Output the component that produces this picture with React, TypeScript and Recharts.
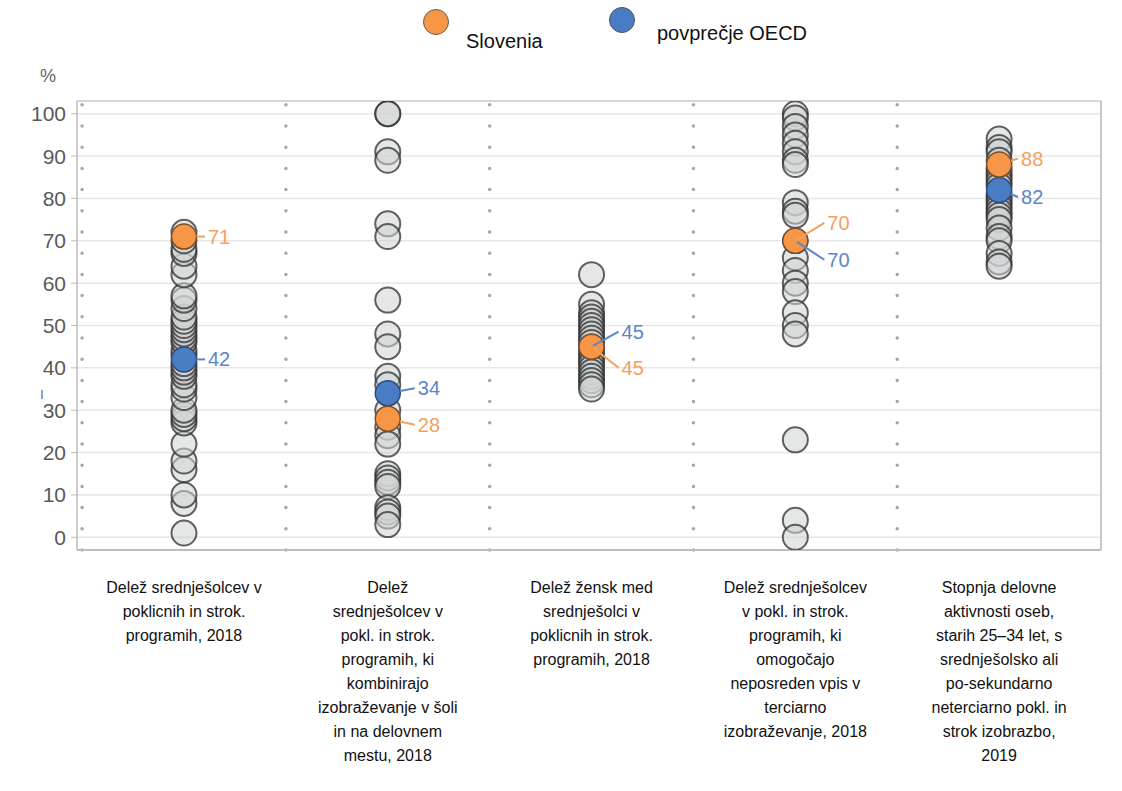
import React from "react"
import { ScatterChart, Scatter, XAxis, YAxis, CartesianGrid, ReferenceLine } from "recharts"

// category labels, one array of lines per column
const categoryLines = [
  ["Delež srednješolcev v", "poklicnih in strok.", "programih, 2018"],
  ["Delež", "srednješolcev v", "pokl. in strok.", "programih, ki", "kombinirajo", "izobraževanje v šoli", "in na delovnem", "mestu, 2018"],
  ["Delež žensk med", "srednješolci v", "poklicnih in strok.", "programih, 2018"],
  ["Delež srednješolcev", "v pokl. in strok.", "programih, ki", "omogočajo", "neposreden vpis v", "terciarno", "izobraževanje, 2018"],
  ["Stopnja delovne", "aktivnosti oseb,", "starih 25–34 let, s", "srednješolsko ali", "po-sekundarno", "neterciarno pokl. in", "strok izobrazbo,", "2019"],
]

// other countries, per indicator
const vocationalShare = [1, 8, 10, 16, 18, 22, 27, 28, 29, 30, 33, 35, 36, 38, 39, 40, 41, 43, 44, 46, 47, 48, 49, 50, 51, 52, 54, 56, 57, 62, 64, 67, 68, 70, 72]
const workBasedShare = [100, 100, 91, 89, 74, 71, 56, 48, 45, 38, 36, 30, 26, 24, 22, 15, 14, 13, 12, 7, 6, 5, 3]
const femaleShare = [62, 55, 53, 52, 51, 50, 49, 48, 47, 46, 44, 43, 42, 41, 40, 39, 38, 37, 36, 35]
const tertiaryAccess = [100, 99, 97, 95, 93, 91, 89, 88, 79, 77, 76, 66, 63, 60, 58, 53, 50, 48, 23, 4, 0]
const employmentRate = [94, 92, 91, 89, 87, 86, 85, 84, 83, 81, 80, 79, 78, 77, 76, 75, 73, 71, 70, 67, 65, 64]

const sloveniaValues = [71, 28, 45, 70, 88]
const oecdValues = [42, 34, 45, 70, 82]

const yTicks = [0, 10, 20, 30, 40, 50, 60, 70, 80, 90, 100]
const separators = [-0.5, 0.5, 1.5, 2.5, 3.5]

const countryData = [vocationalShare, workBasedShare, femaleShare, tertiaryAccess, employmentRate].flatMap((vals, i) =>
  vals.map((v) => ({ x: i, y: v }))
)
const sloveniaData = sloveniaValues.map((v, i) => ({ x: i, y: v }))
const oecdData = oecdValues.map((v, i) => ({ x: i, y: v }))

const FONT = "'Liberation Sans', Arial, sans-serif"
const R = 12.5
const labelDx = [24, 30, 30, 32, 22]

function GrayDot(props: any) {
  const { cx, cy } = props
  return (
    <circle cx={cx} cy={cy} r={R} fill="#cfd3d3" fillOpacity={0.55} stroke="#2e2e2e" strokeOpacity={0.75} strokeWidth={2} />
  )
}

function dot(fill: string, stroke: string) {
  return (props: any) => <circle cx={props.cx} cy={props.cy} r={R} fill={fill} stroke={stroke} strokeWidth={1.5} />
}

function label(textColor: string, dys: number[]) {
  return (props: any) => {
    const { cx, cy, payload } = props
    const i = payload.x
    const tx = cx + labelDx[i]
    const ty = cy + dys[i]
    const ang = Math.atan2(ty - cy, tx - 3 - cx)
    const start = Math.abs(dys[i]) > 10 ? 2 : R
    return (
      <g>
        <line
          x1={cx + Math.cos(ang) * start}
          y1={cy + Math.sin(ang) * start}
          x2={tx - 3}
          y2={ty}
          stroke={textColor}
          strokeWidth={2}
        />
        <text x={tx} y={ty} dominantBaseline="central" fill={textColor} fontSize={20} fontFamily={FONT}>
          {payload.y}
        </text>
      </g>
    )
  }
}

const SloveniaDot = dot("#f79646", "#7a4f28")
const OecdDot = dot("#4a7cc4", "#2c4b7a")
const SloveniaLabel = label("#f5a05c", [0, 6, 21, -18, -6])
const OecdLabel = label("#5b86c9", [0, -5, -15, 19, 7])

function CategoryTick(props: any) {
  const { x, y, payload } = props
  const lines = categoryLines[payload.value] || []
  return (
    <text x={x} y={y + 35} textAnchor="middle" fill="#111" fontSize={16} fontFamily={FONT}>
      {lines.map((l, k) => (
        <tspan key={k} x={x} dy={k === 0 ? 0 : 24}>
          {l}
        </tspan>
      ))}
    </text>
  )
}

export default function App() {
  return (
    <div style={{ position: "absolute", left: 0, top: 0, width: 1122, height: 791, background: "#fff", fontFamily: FONT }}>
      {/* legend */}
      <div style={{ position: "absolute", left: 423, top: 9, width: 26, height: 26, borderRadius: "50%", background: "#f79646", border: "1.5px solid #6b5a4a", boxSizing: "border-box" }} />
      <div style={{ position: "absolute", left: 466, top: 30, fontSize: 20, color: "#111" }}>Slovenia</div>
      <div style={{ position: "absolute", left: 609, top: 7, width: 26, height: 26, borderRadius: "50%", background: "#4a7cc4", border: "1.5px solid #4a5060", boxSizing: "border-box" }} />
      <div style={{ position: "absolute", left: 657, top: 22, fontSize: 20, color: "#111" }}>povprečje OECD</div>
      <div style={{ position: "absolute", left: 40, top: 66, fontSize: 18, color: "#666" }}>%</div>
      <div style={{ position: "absolute", left: 41, top: 390, width: 2, height: 9, background: "#8aa6d6" }} />

      <ScatterChart width={1122} height={791} margin={{ top: 101, right: 21, bottom: 11, left: 0 }}>
        <CartesianGrid vertical={false} stroke="#e6e6e6" strokeWidth={1.5} />
        <XAxis
          type="number"
          dataKey="x"
          domain={[-0.525, 4.5]}
          ticks={[0, 1, 2, 3, 4]}
          allowDataOverflow
          height={230}
          tickLine={false}
          axisLine={{ stroke: "#bdbdbd", strokeWidth: 2 }}
          tick={<CategoryTick />}
          interval={0}
        />
        <YAxis
          type="number"
          dataKey="y"
          domain={[-3, 103]}
          ticks={yTicks}
          allowDataOverflow
          width={77}
          tickSize={6}
          tickMargin={5}
          tickLine={{ stroke: "#bdbdbd" }}
          axisLine={{ stroke: "#bdbdbd", strokeWidth: 1.5 }}
          tick={{ fill: "#595959", fontSize: 21, fontFamily: FONT }}
        />
        <ReferenceLine y={103} stroke="#d0d0d0" strokeWidth={1.5} />
        <ReferenceLine x={4.5} stroke="#c8c8c8" strokeWidth={2} />
        {separators.map((s) => (
          <ReferenceLine
            key={s}
            x={s}
            stroke="#a6a6a6"
            strokeWidth={3.5}
            strokeDasharray="0 21.2"
            strokeLinecap="round"
          />
        ))}
        <Scatter data={countryData} shape={GrayDot} isAnimationActive={false} />
        <Scatter data={oecdData} shape={OecdDot} isAnimationActive={false} />
        <Scatter data={sloveniaData} shape={SloveniaDot} isAnimationActive={false} />
        <Scatter data={oecdData} shape={OecdLabel} isAnimationActive={false} />
        <Scatter data={sloveniaData} shape={SloveniaLabel} isAnimationActive={false} />
      </ScatterChart>
    </div>
  )
}
